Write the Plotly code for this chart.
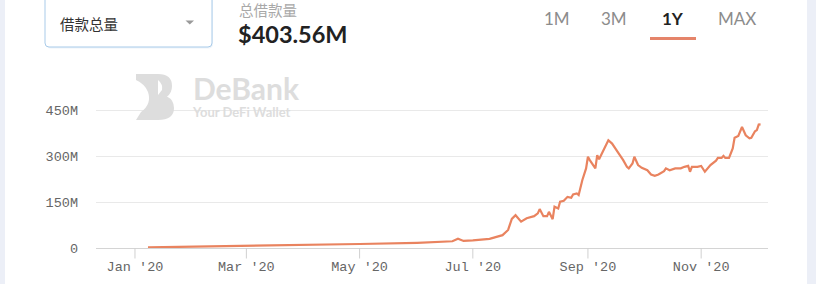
import plotly.graph_objects as go

# ---- data ----
dates = [
    "2020-01-08", "2020-02-01", "2020-03-01", "2020-04-01", "2020-05-01",
    "2020-06-01", "2020-06-20", "2020-06-23", "2020-06-26", "2020-07-01",
    "2020-07-10", "2020-07-17", "2020-07-20", "2020-07-22", "2020-07-24",
    "2020-07-27", "2020-07-30", "2020-08-03", "2020-08-05", "2020-08-06",
    "2020-08-08", "2020-08-10", "2020-08-11", "2020-08-13", "2020-08-14",
    "2020-08-16", "2020-08-17", "2020-08-19", "2020-08-21", "2020-08-23",
    "2020-08-24", "2020-08-26", "2020-08-27", "2020-08-29", "2020-08-31",
    "2020-09-01", "2020-09-02", "2020-09-05", "2020-09-06", "2020-09-07",
    "2020-09-09", "2020-09-10", "2020-09-12", "2020-09-14", "2020-09-16",
    "2020-09-17", "2020-09-18", "2020-09-20", "2020-09-22", "2020-09-23",
    "2020-09-25", "2020-09-26", "2020-09-28", "2020-09-30", "2020-10-03",
    "2020-10-05", "2020-10-07", "2020-10-09", "2020-10-12", "2020-10-13",
    "2020-10-15", "2020-10-18", "2020-10-21", "2020-10-23", "2020-10-25",
    "2020-10-26", "2020-10-27", "2020-10-30", "2020-11-01", "2020-11-03",
    "2020-11-06", "2020-11-09", "2020-11-10", "2020-11-12", "2020-11-13",
    "2020-11-14", "2020-11-16", "2020-11-18", "2020-11-19", "2020-11-21",
    "2020-11-23", "2020-11-25", "2020-11-27", "2020-11-28", "2020-11-30",
    "2020-12-01", "2020-12-02", "2020-12-03",
]
borrow_musd = [
    2, 4, 8, 10, 13,
    17, 22, 30, 23, 25,
    30, 42, 59, 95, 107,
    86, 97, 104, 113, 127,
    104, 104, 118, 94, 135,
    129, 151, 154, 167, 164,
    175, 178, 173, 222, 260,
    298, 287, 260, 303, 290,
    314, 330, 352, 341, 325,
    314, 305, 287, 265, 260,
    276, 298, 271, 262, 254,
    240, 236, 240, 251, 260,
    254, 260, 260, 265, 268,
    249, 265, 265, 268, 249,
    271, 285, 294, 294, 301,
    294, 294, 325, 360, 366,
    395, 368, 358, 360, 381,
    385, 403, 403.56,
]
x_tick_dates = ["2020-01-01", "2020-03-01", "2020-05-01", "2020-07-01", "2020-09-01", "2020-11-01"]
x_tick_text = ["Jan '20", "Mar '20", "May '20", "Jul '20", "Sep '20", "Nov '20"]
y_tick_vals = [0, 150, 300, 450]
y_tick_text = ["0", "150M", "300M", "450M"]
metric_label = "借款总量"
metric_title = "总借款量"
metric_value = "$403.56M"
range_buttons = ["1M", "3M", "1Y", "MAX"]
active_button = "1Y"

# ---- layout geometry (pixels) ----
W, H = 816, 284
PL, PR, PT, PB = 96, 768, 101, 248   # plot area
YMAX = 480


def px(x):
    return (x - PL) / (PR - PL)


def py(y):
    return (PB - y) / (PB - PT)


LINE = "#e9835f"

fig = go.Figure()
fig.add_trace(go.Scatter(
    x=dates, y=borrow_musd, mode="lines",
    line=dict(color=LINE, width=2.2), hoverinfo="skip", showlegend=False,
))

shapes = []
annotations = []

# side strips
shapes.append(dict(type="rect", xref="paper", yref="paper", x0=px(0), x1=px(5),
                   y0=py(H), y1=py(0), fillcolor="#eceff7", line=dict(width=0), layer="below"))
shapes.append(dict(type="rect", xref="paper", yref="paper", x0=px(807), x1=px(W),
                   y0=py(H), y1=py(0), fillcolor="#eceff7", line=dict(width=0), layer="below"))

# x tick marks (at axis tick dates)
for d in x_tick_dates:
    shapes.append(dict(type="line", xref="x", yref="paper", x0=d, x1=d,
                       y0=py(248), y1=py(258.5), line=dict(color="#d0d0d0", width=1)))


def rounded(x0, y0, x1, y1, r):
    X = lambda v: px(v)
    Y = lambda v: py(v)
    return (f"M {X(x0 + r)},{Y(y0)} L {X(x1 - r)},{Y(y0)} "
            f"Q {X(x1)},{Y(y0)} {X(x1)},{Y(y0 + r)} L {X(x1)},{Y(y1 - r)} "
            f"Q {X(x1)},{Y(y1)} {X(x1 - r)},{Y(y1)} L {X(x0 + r)},{Y(y1)} "
            f"Q {X(x0)},{Y(y1)} {X(x0)},{Y(y1 - r)} L {X(x0)},{Y(y0 + r)} "
            f"Q {X(x0)},{Y(y0)} {X(x0 + r)},{Y(y0)} Z")


# dropdown box
shapes.append(dict(type="path", xref="paper", yref="paper",
                   path=rounded(46, -8, 213, 48.5, 5),
                   fillcolor="#eef4fa", line=dict(width=0), layer="below"))
shapes.append(dict(type="path", xref="paper", yref="paper",
                   path=rounded(45, -8, 212, 47, 4),
                   fillcolor="white", line=dict(color="#a9cbe9", width=1), layer="below"))
shapes.append(dict(type="path", xref="paper", yref="paper",
                   path=f"M {px(185.5)},{py(20.5)} L {px(194)},{py(20.5)} L {px(189.75)},{py(24.5)} Z",
                   fillcolor="#9a9a9a", line=dict(width=0)))

annotations.append(dict(text=metric_label, xref="paper", yref="paper", x=px(58), y=py(23),
                        xanchor="left", yanchor="middle", showarrow=False,
                        font=dict(family="Noto Sans CJK SC", size=14.5, color="#333")))
annotations.append(dict(text=metric_title, xref="paper", yref="paper", x=px(237), y=py(9),
                        xanchor="left", yanchor="middle", showarrow=False,
                        font=dict(family="Noto Sans CJK SC", size=14.5, color="#a8a8a8")))
annotations.append(dict(text=f"<b>{metric_value}</b>", xref="paper", yref="paper", x=px(236), y=py(34),
                        xanchor="left", yanchor="middle", showarrow=False,
                        font=dict(family="Lato", size=23.5, color="#222")))

btn_x = [556.5, 614, 673, 737]
for b, bx in zip(range_buttons, btn_x):
    active = b == active_button
    annotations.append(dict(text=(f"<b>{b}</b>" if active else b), xref="paper", yref="paper",
                            x=px(bx), y=py(18), xanchor="center", yanchor="middle", showarrow=False,
                            font=dict(family="Lato", size=17, color="#222" if active else "#8c8c8c")))
shapes.append(dict(type="line", xref="paper", yref="paper", x0=px(650), x1=px(696),
                   y0=py(38.5), y1=py(38.5), line=dict(color="#e5846a", width=3)))

# watermark
WM = "#dddddd"
logo = (f"M {px(136)},{py(74)} L {px(158)},{py(74)} "
        f"Q {px(172)},{py(74)} {px(172)},{py(86)} "
        f"Q {px(172)},{py(93)} {px(167)},{py(96.5)} "
        f"Q {px(174)},{py(100)} {px(174)},{py(108)} "
        f"Q {px(174)},{py(120)} {px(158)},{py(120)} "
        f"L {px(136)},{py(120)} L {px(141)},{py(112)} "
        f"Q {px(152)},{py(104)} {px(148)},{py(92)} "
        f"Q {px(145)},{py(84)} {px(136)},{py(80)} Z")
shapes.append(dict(type="path", xref="paper", yref="paper", path=logo,
                   fillcolor=WM, line=dict(width=0)))
shapes.append(dict(type="path", xref="paper", yref="paper",
                   path=(f"M {px(158)},{py(80)} Q {px(163)},{py(84)} {px(162)},{py(90)} "
                         f"L {px(158)},{py(95)} Z"),
                   fillcolor="white", line=dict(width=0)))
annotations.append(dict(
    text="<b><span style='font-size:30px'>DeBank</span></b><br><b>Your DeFi Wallet</b>",
    xref="paper", yref="paper", x=px(190), y=py(122),
    xanchor="left", yanchor="bottom", align="left", showarrow=False,
    font=dict(family="Lato", size=13, color=WM)))

fig.update_layout(
    width=W, height=H, autosize=False,
    margin=dict(l=PL, r=W - PR, t=PT, b=H - PB, pad=0, autoexpand=False),
    paper_bgcolor="white", plot_bgcolor="white",
    shapes=shapes, annotations=annotations,
    showlegend=False,
    xaxis=dict(
        type="date", range=["2019-12-11", "2020-12-07"],
        tickvals=x_tick_dates, ticktext=x_tick_text,
        showgrid=False, zeroline=False, automargin=False,
        showline=True, linecolor="#d4d4d4", linewidth=1,
        ticks="", ticklabelstandoff=6,
        tickfont=dict(family="Liberation Mono", size=13.5, color="#666"),
        fixedrange=True,
    ),
    yaxis=dict(
        range=[0, YMAX], tickvals=y_tick_vals, ticktext=y_tick_text,
        showgrid=True, gridcolor="#e9e9e9", gridwidth=1,
        zeroline=False, showline=False, ticks="", automargin=False,
        ticklabelstandoff=17,
        tickfont=dict(family="Liberation Mono", size=13.5, color="#666"),
        fixedrange=True,
    ),
)

fig.write_html("out.html")
